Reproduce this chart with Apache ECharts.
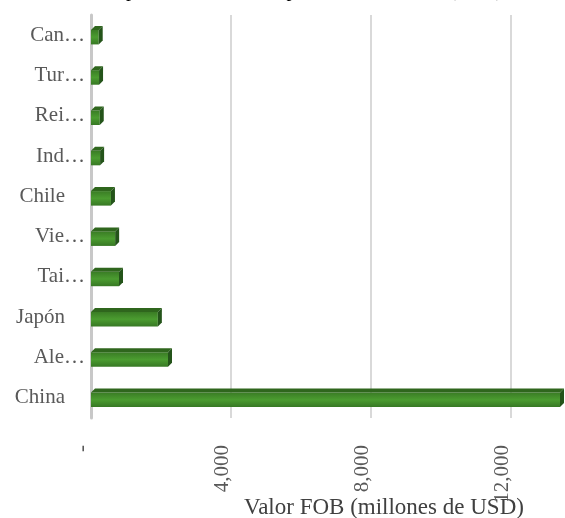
<!DOCTYPE html>
<html>
<head>
<meta charset="utf-8">
<script src="https://cdn.jsdelivr.net/npm/echarts@6/dist/echarts.min.js"></script>
<style>html,body{margin:0;padding:0;background:#fff}#c{width:565px;height:518px}</style>
</head>
<body>
<div id="c"></div>
<script>
const titleText = 'Valor de exportaciones del año por socio comercial (2023)';
const categories = ['China','Alemania','Japón','Tailandia','Vietnam','Chile','Indonesia','Reino Unido','Turquía','Canadá'];
const values = [13400, 2200, 1910, 800, 690, 570, 260, 250, 230, 220];
const axisName = 'Valor FOB (millones de USD)';
const xMax = 14000;
const xInterval = 4000;

const chart = echarts.init(document.getElementById('c'));
const font = '"Liberation Serif", "Times New Roman", serif';
const faceGrad = new echarts.graphic.LinearGradient(0,0,0,1,[
  {offset:0,color:'#3a7c25'},{offset:0.5,color:'#4b9c30'},{offset:1,color:'#377824'}]);

function renderItem(params, api){
  const v = api.value(0), c = api.value(1);
  const p0 = api.coord([0, c]), p1 = api.coord([v, c]);
  const band = api.size([0,1])[1];
  const h = band*0.46, d = 4;
  const yT = p0[1]-h/2, yB = p0[1]+h/2, x0 = p0[0], x1 = p1[0];
  return {type:'group', children:[
    {type:'rect', shape:{x:x0, y:yT+d, width:x1-x0, height:h-d}, style:{fill:faceGrad}},
    {type:'polygon', shape:{points:[[x0,yT+d],[x0+d,yT],[x1+d,yT],[x1,yT+d]]}, style:{fill:'#2f661d'}},
    {type:'polygon', shape:{points:[[x1,yT+d],[x1+d,yT],[x1+d,yB-d],[x1,yB]]}, style:{fill:'#24541a'}}
  ]};
}

chart.setOption({
  animation:false,
  title:{text:titleText, left:30, top:-24, textStyle:{fontFamily:font, fontSize:20, fontWeight:'normal', color:'#000'}},
  grid:{left:91, width:490, top:15, bottom:100, containLabel:false, outerBoundsMode:'none'},
  xAxis:{type:'value', min:0, max:xMax, interval:xInterval,
    axisLine:{show:false}, axisTick:{show:false},
    splitLine:{show:true, lineStyle:{color:'#d9d9d9', width:2}},
    axisLabel:{rotate:90, margin:27, showMaxLabel:false, verticalAlign:'bottom', lineHeight:18,
      fontFamily:font, fontSize:21, color:'#595959',
      formatter:v => v===0 ? '-' : v.toLocaleString('en-US')},
    name:axisName, nameLocation:'middle', nameGap:78, nameMoveOverlap:false,
    nameTextStyle:{fontFamily:font, fontSize:23, color:'#404040', padding:[0,0,0,96]}
  },
  yAxis:{type:'category', data:categories,
    axisLine:{show:true, lineStyle:{color:'#c8c8c8', width:3}},
    axisTick:{show:false}, splitLine:{show:false},
    axisLabel:{margin:6, fontFamily:font, fontSize:21, color:'#595959',
      formatter:n => n.length>5 ? '{a|'+n.slice(0,3)+'…}' : '{b|'+n+'}',
      rich:{a:{fontFamily:font, fontSize:21, color:'#595959'},
            b:{fontFamily:font, fontSize:21, color:'#595959', padding:[0,20,0,0]}}}
  },
  series:[{type:'custom', renderItem, clip:false,
    encode:{x:0, y:1},
    data:values.map((v,i)=>[v, categories[i]])}]
});
</script>
</body>
</html>
